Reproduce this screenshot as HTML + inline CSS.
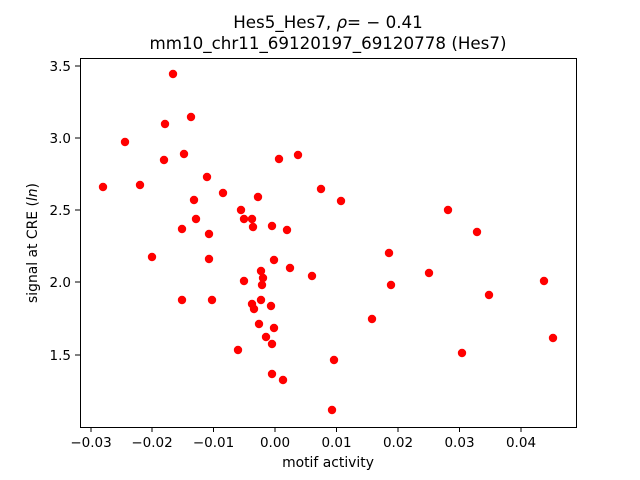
<!DOCTYPE html>
<html><head><style>body{margin:0;background:#fff}svg{display:block}text{font-family:"DejaVu Sans","Liberation Sans",sans-serif;fill:#000}</style></head>
<body>
<svg width="640" height="480" xmlns="http://www.w3.org/2000/svg">
<rect width="640" height="480" fill="#fff"/>
<text x="328" y="28" font-size="16.7" text-anchor="middle">Hes5_Hes7, <tspan font-style="italic">ρ</tspan>= − 0.41</text>
<text x="328" y="49" font-size="16.7" text-anchor="middle">mm10_chr11_69120197_69120778 (Hes7)</text>
<g fill="#ff0000">
<circle cx="103" cy="187" r="4.2"/><circle cx="125" cy="142" r="4.2"/><circle cx="140" cy="185" r="4.2"/><circle cx="152" cy="257" r="4.2"/><circle cx="164" cy="160" r="4.2"/><circle cx="165" cy="124" r="4.2"/><circle cx="173" cy="74" r="4.2"/><circle cx="182" cy="229" r="4.2"/><circle cx="182" cy="300" r="4.2"/><circle cx="184" cy="154" r="4.2"/><circle cx="191" cy="117" r="4.2"/><circle cx="194" cy="200" r="4.2"/><circle cx="196" cy="219" r="4.2"/><circle cx="207" cy="177" r="4.2"/><circle cx="209" cy="234" r="4.2"/><circle cx="209" cy="259" r="4.2"/><circle cx="212" cy="300" r="4.2"/><circle cx="223" cy="193" r="4.2"/><circle cx="238" cy="350" r="4.2"/><circle cx="241" cy="210" r="4.2"/><circle cx="244" cy="219" r="4.2"/><circle cx="244" cy="281" r="4.2"/><circle cx="252" cy="219" r="4.2"/><circle cx="252" cy="304" r="4.2"/><circle cx="254" cy="309" r="4.2"/><circle cx="253" cy="227" r="4.2"/><circle cx="258" cy="197" r="4.2"/><circle cx="259" cy="324" r="4.2"/><circle cx="261" cy="271" r="4.2"/><circle cx="263" cy="278" r="4.2"/><circle cx="262" cy="285" r="4.2"/><circle cx="261" cy="300" r="4.2"/><circle cx="266" cy="337" r="4.2"/><circle cx="271" cy="306" r="4.2"/><circle cx="272" cy="226" r="4.2"/><circle cx="272" cy="374" r="4.2"/><circle cx="272" cy="344" r="4.2"/><circle cx="274" cy="260" r="4.2"/><circle cx="274" cy="328" r="4.2"/><circle cx="279" cy="159" r="4.2"/><circle cx="283" cy="380" r="4.2"/><circle cx="287" cy="230" r="4.2"/><circle cx="290" cy="268" r="4.2"/><circle cx="298" cy="155" r="4.2"/><circle cx="312" cy="276" r="4.2"/><circle cx="321" cy="189" r="4.2"/><circle cx="334" cy="360" r="4.2"/><circle cx="332" cy="410" r="4.2"/><circle cx="341" cy="201" r="4.2"/><circle cx="372" cy="319" r="4.2"/><circle cx="389" cy="253" r="4.2"/><circle cx="391" cy="285" r="4.2"/><circle cx="429" cy="273" r="4.2"/><circle cx="448" cy="210" r="4.2"/><circle cx="462" cy="353" r="4.2"/><circle cx="477" cy="232" r="4.2"/><circle cx="489" cy="295" r="4.2"/><circle cx="544" cy="281" r="4.2"/><circle cx="553" cy="338" r="4.2"/>
</g>
<rect x="80.5" y="58.5" width="496" height="369" fill="none" stroke="#000" stroke-width="1"/>
<g stroke="#000" stroke-width="1">
<line x1="91" y1="427" x2="91" y2="432"/><line x1="152" y1="427" x2="152" y2="432"/><line x1="213.5" y1="427" x2="213.5" y2="432"/><line x1="275" y1="427" x2="275" y2="432"/><line x1="336.5" y1="427" x2="336.5" y2="432"/><line x1="398" y1="427" x2="398" y2="432"/><line x1="459.5" y1="427" x2="459.5" y2="432"/><line x1="521" y1="427" x2="521" y2="432"/>
<line x1="75" y1="66" x2="80" y2="66"/><line x1="75" y1="138" x2="80" y2="138"/><line x1="75" y1="210" x2="80" y2="210"/><line x1="75" y1="282" x2="80" y2="282"/><line x1="75" y1="355" x2="80" y2="355"/>
</g>
<g font-size="13.5" text-anchor="middle">
<text x="91" y="447">−0.03</text><text x="152" y="447">−0.02</text><text x="213.5" y="447">−0.01</text><text x="275" y="447">0.00</text><text x="336.5" y="447">0.01</text><text x="398" y="447">0.02</text><text x="459.5" y="447">0.03</text><text x="521" y="447">0.04</text>
</g>
<g font-size="13.5" text-anchor="end">
<text x="71" y="71">3.5</text><text x="71" y="143">3.0</text><text x="71" y="215">2.5</text><text x="71" y="287">2.0</text><text x="71" y="360">1.5</text>
</g>
<text x="328" y="467" font-size="13.9" text-anchor="middle">motif activity</text>
<text transform="translate(37,243) rotate(-90)" font-size="13.9" text-anchor="middle">signal at CRE (<tspan font-style="italic">ln</tspan>)</text>
</svg>
</body></html>
